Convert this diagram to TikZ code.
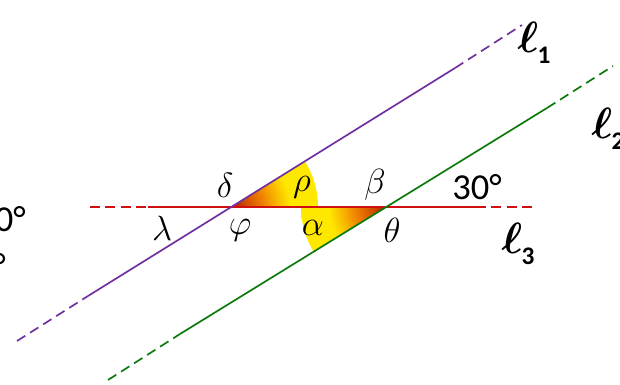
\documentclass[tikz,border=0pt]{standalone}
\usepackage{fontspec}
\usepackage{tikz}
\usetikzlibrary{calc}
\newfontfamily\carlito{Carlito}
\definecolor{lineone}{HTML}{7030A0}
\definecolor{linetwo}{HTML}{0B7A0B}
\definecolor{linethree}{HTML}{D01010}
\definecolor{angdark}{HTML}{B01800}
\definecolor{angorange}{HTML}{F08000}
\definecolor{angyellow}{HTML}{FFE800}
\pgfdeclareradialshading{anglefill}{\pgfpoint{0bp}{0bp}}{color(0bp)=(angdark); color(4bp)=(angdark!50!angorange); color(9bp)=(angorange); color(14bp)=(angorange!35!angyellow); color(17bp)=(angyellow); color(50bp)=(angyellow)}

\begin{document}
\begin{tikzpicture}[
    x=0.025cm, y=0.025cm,
    greek/.style={font=\Huge, inner sep=0pt},
    deg/.style={font=\fontsize{26}{30}\selectfont\carlito, inner sep=0pt},
    lname/.style={font=\Huge\boldmath, inner sep=0pt, scale=1.25},
    lsub/.style={font=\fontsize{18}{20}\selectfont\carlito\bfseries, inner sep=0pt},
    solidline/.style={draw=#1, line width=1.2pt},
    dashline/.style={draw=#1, line width=1.2pt, dash pattern=on 7pt off 4pt},
]

\useasboundingbox (0,0) rectangle (620,384);

% Intersection points
\coordinate (P) at (232,177);
\coordinate (Q) at (386,177);

% Line ends
\coordinate (a1) at (17,43);
\coordinate (b1) at (88,88);
\coordinate (c1) at (455,316);
\coordinate (d1) at (522,359);
\coordinate (a2) at (108,4);
\coordinate (b2) at (180,50);
\coordinate (c2) at (547,276);
\coordinate (d2) at (613,318);
\coordinate (a3) at (90,177);
\coordinate (b3) at (148,177);
\coordinate (c3) at (476,177);
\coordinate (d3) at (535,177);

% Shaded angles
\begin{scope}
  \clip (P) -- ++(0:86) arc (0:32:86) -- cycle;
  \shade[shading=anglefill] (P) circle (86);
\end{scope}
\begin{scope}
  \clip (Q) -- ++(180:85) arc (180:212:85) -- cycle;
  \shade[shading=anglefill] (Q) circle (85);
\end{scope}

% l3
\draw[dashline=linethree] (a3) -- (b3);
\draw[solidline=linethree] (b3) -- (c3);
\draw[dashline=linethree] (c3) -- (d3);

% l1
\draw[dashline=lineone] (a1) -- (b1);
\draw[solidline=lineone] (b1) -- (c1);
\draw[dashline=lineone] (c1) -- (d1);

% l2
\draw[dashline=linetwo] (a2) -- (b2);
\draw[solidline=linetwo] (b2) -- (c2);
\draw[dashline=linetwo] (c2) -- (d2);

% Angle names
\node[greek] (delta) at (225,199) {$\delta$};
\node[greek] (rho) at (302,197) {$\rho$};
\node[greek] (beta) at (375,199) {$\beta$};
\node[greek] (lambda) at (162,156) {$\lambda$};
\node[greek] (phi) at (240,154) {$\varphi$};
\node[greek] (alpha) at (313,156) {$\alpha$};
\node[greek] (theta) at (392,154) {$\theta$};
\node[deg] (thirty) at (477,197) {30°};

% Cut texts at the left edge
\node[deg, anchor=east] (cutone) at (26,165) {0°};
\node[deg, anchor=east] (cuttwo) at (6,118) {°};

% Line names
\node[lname] (lone) at (528,347) {$\ell$};
\node[lsub] (lonesub) at ($(lone)+(16,-18)$) {1};
\node[lname] (ltwo) at (602,261) {$\ell$};
\node[lsub] (ltwosub) at ($(ltwo)+(16,-18)$) {2};
\node[lname] (lthree) at (512,146) {$\ell$};
\node[lsub] (lthreesub) at ($(lthree)+(16,-18)$) {3};

\end{tikzpicture}
\end{document}
